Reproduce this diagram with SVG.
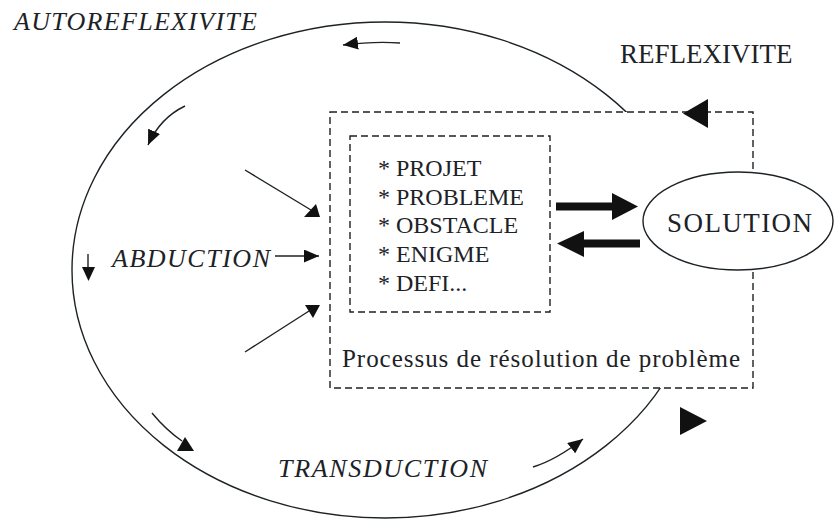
<svg xmlns="http://www.w3.org/2000/svg" width="838" height="519" viewBox="0 0 838 519">
<style>
.t{font-family:"Liberation Serif","Times New Roman",serif;fill:#1c2226}
.it{font-style:italic}
.ln{fill:none;stroke:#1c2226;stroke-width:1.4}
.dash{fill:#fff;stroke:#1c2226;stroke-width:1.4;stroke-dasharray:7 4}
.head{fill:#111}
</style>
<defs>
<marker id="ah" markerUnits="userSpaceOnUse" markerWidth="16" markerHeight="13" refX="15" refY="6.5" orient="auto">
<path d="M0,0 L15,6.5 L0,13 z" fill="#111"/>
</marker>
</defs>
<rect width="838" height="519" fill="#fff"/>
<g id="cycle">
<ellipse cx="385" cy="270" rx="313" ry="248" class="ln"/>
</g>
<g id="process">
<rect x="330" y="112" width="423" height="276" class="dash"/>
<text class="t" x="342" y="367" font-size="25" textLength="398" lengthAdjust="spacing">Processus de résolution de problème</text>
</g>
<g id="problems">
<rect x="350" y="136" width="200" height="176" class="dash"/>
<text class="t" x="378" y="176" font-size="24">* PROJET</text>
<text class="t" x="378" y="204.5" font-size="24">* PROBLEME</text>
<text class="t" x="378" y="233" font-size="24">* OBSTACLE</text>
<text class="t" x="378" y="262" font-size="24">* ENIGME</text>
<text class="t" x="378" y="291" font-size="24">* DEFI...</text>
</g>
<g id="solution">
<ellipse cx="738" cy="221" rx="95" ry="49" fill="#fff" stroke="#1c2226" stroke-width="1.4"/>
<text class="t" x="667" y="232" font-size="27" textLength="145" lengthAdjust="spacing">SOLUTION</text>
</g>
<g id="label-autoreflexivite">
<text class="t it" x="14" y="30" font-size="26" textLength="243" lengthAdjust="spacing">AUTOREFLEXIVITE</text>
</g>
<g id="label-reflexivite">
<text class="t" x="620" y="63" font-size="27">REFLEXIVITE</text>
</g>
<g id="label-abduction">
<text class="t it" x="112" y="267" font-size="26" textLength="158" lengthAdjust="spacing">ABDUCTION</text>
</g>
<g id="label-transduction">
<text class="t it" x="278" y="477" font-size="26" textLength="209" lengthAdjust="spacing">TRANSDUCTION</text>
</g>
<g id="connectors">
<path d="M400,43 Q375,41 343,45" class="ln" marker-end="url(#ah)"/>
<path d="M185,106 Q160,118 148,145" class="ln" marker-end="url(#ah)"/>
<path d="M275,256 L319,256" class="ln" marker-end="url(#ah)"/>
<path d="M533,467 Q556,460 583,439" class="ln" marker-end="url(#ah)"/>
<line x1="88" y1="254" x2="88" y2="270" class="ln"/>
<polygon points="82,267 95,267 88.5,281" class="head"/>
<line x1="245" y1="170" x2="311" y2="210" class="ln"/>
<polygon points="304,217 320,217 316,204" class="head"/>
<line x1="245" y1="352" x2="309" y2="311" class="ln"/>
<polygon points="305,305 320,305 313,318" class="head"/>
<path d="M152,413 Q166,430 182,441" class="ln"/>
<polygon points="177,451 194,451 185,437" class="head"/>
<polygon points="683,113.5 708,99 708,128" class="head"/>
<polygon points="680,407 680,435 707,421" class="head"/>
<polygon points="556,202.5 612,202.5 612,193 638,206.5 612,220 612,210.5 556,210.5" class="head"/>
<polygon points="640,239.5 584,239.5 584,231 557,243.5 584,257 584,247.5 640,247.5" class="head"/>
</g>
</svg>
